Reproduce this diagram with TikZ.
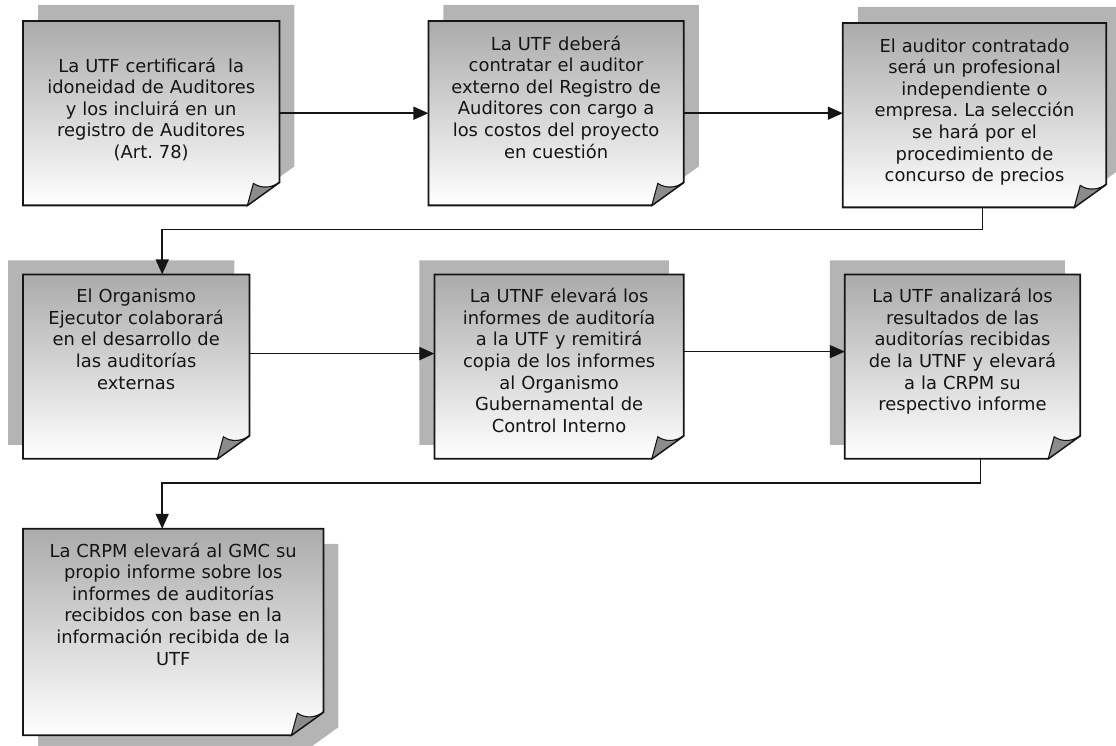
\documentclass[tikz,border=0pt]{standalone}
\usepackage{fontspec}
\setmainfont{DejaVu Sans}
\usetikzlibrary{arrows.meta, positioning, backgrounds}
\definecolor{noteShadow}{HTML}{B4B4B4}
\definecolor{noteTop}{HTML}{ABABAB}
\definecolor{noteCurl}{HTML}{8C8C8C}
\definecolor{noteInk}{HTML}{151515}
\frenchspacing

% page outline with the cut corner, shifted by (#2,#3)
\newcommand\noteoutline[3]{([shift={(#2,#3)}]#1.north west) -- ([shift={(#2,#3)}]#1.north east) -- ([shift={(#2,#3+23pt)}]#1.south east) -- ([shift={(#2-32pt,#3)}]#1.south east) -- ([shift={(#2,#3)}]#1.south west) -- cycle}

\begin{document}
\begin{tikzpicture}[x=1pt, y=1pt, font=\fontsize{17.9}{21.6}\selectfont,
        note/.style={inner sep=0pt, align=center, text=noteInk},
        link/.style={draw=noteInk, line width=1.6pt, -{Triangle[length=15pt, width=13pt]}}]
        \useasboundingbox (0,0) rectangle (1116,-746);
        % first row
        \node[note, text width=256pt, text height=51pt, text depth=133pt, anchor=north west] (cert) at (23,-21) {La UTF certificará\ \ la\\ idoneidad de Auditores\\ y los incluirá en un\\ registro de Auditores\\ (Art. 78)};
        \node[note, text width=255pt, text height=29pt, text depth=155pt, right=149pt of cert.north east, anchor=north west] (contrato) {La UTF deberá\\ contratar el auditor\\ externo del Registro de\\ Auditores con cargo a\\ los costos del proyecto\\ en cuestión};
        \node[note, text width=263pt, text height=29pt, text depth=155pt, right=159pt of contrato.north east, anchor=north west, yshift=-2pt] (seleccion) {El auditor contratado\\ será un profesional\\ independiente o\\ empresa. La selección\\ se hará por el\\ procedimiento de\\ concurso de precios};
        % second row
        \node[note, text width=226pt, text height=28pt, text depth=156pt, below=69pt of cert.south west, anchor=north west] (ejecutor) {El Organismo\\ Ejecutor colaborará\\ en el desarrollo de\\ las auditorías\\ externas};
        \node[note, text width=249pt, text height=28pt, text depth=156pt, right=185pt of ejecutor.north east, anchor=north west] (utnf) {La UTNF elevará los\\ informes de auditoría\\ a la UTF y remitirá\\ copia de los informes\\ al Organismo\\ Gubernamental de\\ Control Interno};
        \node[note, text width=235pt, text height=28pt, text depth=156pt, right=161pt of utnf.north east, anchor=north west] (analisis) {La UTF analizará los\\ resultados de las\\ auditorías recibidas\\ de la UTNF y elevará\\ a la CRPM su\\ respectivo informe};
        % third row
        \node[note, text width=300pt, text height=28pt, text depth=178pt, below=70pt of ejecutor.south west, anchor=north west] (crpm) {La CRPM elevará al GMC su\\ propio informe sobre los\\ informes de auditorías\\ recibidos con base en la\\ información recibida de la\\ UTF};

        % shadow, shaded page and curled corner behind every note
        \begin{scope}[on background layer]
          \foreach \n/\dx/\dy in {cert/15pt/16pt, contrato/15pt/16pt, seleccion/15pt/16pt, ejecutor/-15pt/14pt, utnf/-15pt/14pt, analisis/-15pt/14pt, crpm/15pt/-15pt}{
            \fill[noteShadow] \noteoutline{\n}{\dx}{\dy};
            \shadedraw[top color=noteTop, bottom color=white, draw=noteInk, line width=1.8pt] \noteoutline{\n}{0pt}{0pt};
            \filldraw[fill=noteCurl, draw=noteInk, line width=1.1pt] ([xshift=-32pt]\n.south east) -- ([shift={(-26pt,22pt)}]\n.south east) .. controls ([shift={(-17pt,16pt)}]\n.south east) and ([shift={(-7pt,18pt)}]\n.south east) .. ([yshift=23pt]\n.south east) -- cycle;
          }
        \end{scope}

        \draw[link] (cert) -- (contrato);
        \draw[link] (contrato.east) -- (contrato.east -| seleccion.west);
        \draw[link] ([xshift=8pt]seleccion.south) -- ++(0,-22pt) -| ([xshift=26pt]ejecutor.north);
        \draw[link] ([yshift=13pt]ejecutor.east) -- ([yshift=13pt]ejecutor.east -| utnf.west);
        \draw[link] ([yshift=15pt]utnf.east) -- ([yshift=15pt]utnf.east -| analisis.west);
        \draw[link] ([xshift=18pt]analisis.south) -- ++(0,-24pt) -| ([xshift=-11pt]crpm.north);
      \end{tikzpicture}
\end{document}
